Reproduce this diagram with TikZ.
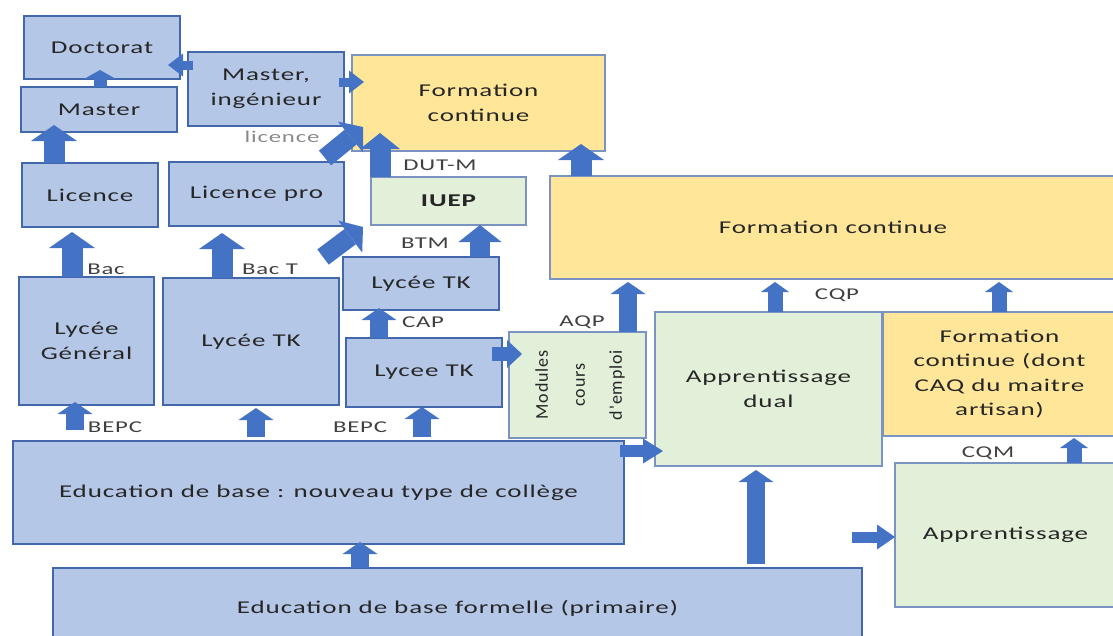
\documentclass[tikz,border=0pt]{standalone}
\usepackage{fontspec}
\setmainfont{Carlito}[FakeStretch=1.5,LetterSpace=5]
\newfontfamily\rotfont{Carlito}[LetterSpace=5]
\usepackage{graphicx}
\usepackage{xcolor}
\usepackage{tikz}
\usetikzlibrary{positioning,arrows.meta}

\definecolor{boxblue}{HTML}{B4C7E7}
\definecolor{boxyellow}{HTML}{FFE699}
\definecolor{boxgreen}{HTML}{E2F0D9}
\definecolor{edgeblue}{HTML}{4267AA}
\definecolor{edgegrey}{HTML}{7A93C2}
\definecolor{arrowblue}{HTML}{4472C4}
\definecolor{textdark}{HTML}{262626}
\definecolor{labelgrey}{HTML}{404040}
\definecolor{lightlabel}{HTML}{8A8A8A}

\tikzset{
  box/.style={draw=edgeblue, line width=1.8pt, fill=boxblue, align=center, text=textdark,
    inner sep=2pt, outer sep=0pt, font=\fontsize{18}{24.5}\selectfont},
  ybox/.style={box, draw=edgegrey, fill=boxyellow},
  gbox/.style={box, draw=edgegrey, fill=boxgreen},
  lbl/.style={text=labelgrey, inner sep=0pt, font=\fontsize{16.5}{18}\selectfont},
  thickup/.style={draw=arrowblue, line width=21pt, -{Triangle[width=46pt,length=16pt,line width=0pt]}},
  midup/.style={draw=arrowblue, line width=18pt, -{Triangle[width=35pt,length=12pt,line width=0pt]}},
  thinup/.style={draw=arrowblue, line width=15pt, -{Triangle[width=28pt,length=10pt,line width=0pt]}},
  sidearrow/.style={draw=arrowblue, line width=11pt, -{Triangle[width=23pt,length=15pt,line width=0pt]}},
}

\begin{document}
\begin{tikzpicture}[x=1pt, y=-1pt]
  \useasboundingbox (0,0) rectangle (1113,635);

  % university side
  \node[box, minimum width=156pt, minimum height=63pt] (doc) at (102,47.5) {Doctorat};
  \node[box, minimum width=156pt, minimum height=45pt] (mas) at (99,109.5) {Master};
  \node[box, minimum width=156pt, minimum height=74pt] (mi) at (266,89) {Master,\\ingénieur};
  \node[ybox, minimum width=253pt, minimum height=96pt] (fc1) at (478.5,103) {Formation\\continue};
  \node[box, minimum width=136pt, minimum height=64pt] (lic) at (90,195) {Licence};
  \node[box, minimum width=175pt, minimum height=64pt] (lpro) at (256.5,194) {Licence pro};
  \node[gbox, minimum width=155pt, minimum height=48pt, font=\fontsize{18}{24.5}\selectfont\bfseries] (iuep) at (448.5,201) {IUEP};
  \node[ybox, minimum width=566pt, minimum height=103pt] (fc2) at (833,227.5) {Formation continue};

  % lycees
  \node[box, minimum width=156pt, minimum height=53pt] (ltk1) at (421,283.5) {Lycée TK};
  \node[box, minimum width=135pt, minimum height=128pt] (lgen) at (86.5,341) {Lycée\\Général};
  \node[box, minimum width=176pt, minimum height=127pt] (ltk2) at (251,341.5) {Lycée TK};
  \node[box, minimum width=156pt, minimum height=69pt] (ltk3) at (424,372.5) {Lycee TK};
  \node[gbox, minimum width=137pt, minimum height=106pt] (mod) at (577.5,385)
    {\rotatebox{90}{\rotfont\fontsize{18}{37}\selectfont\begin{tabular}{@{}c@{}}Modules\\cours\\d'emploi\end{tabular}}};

  % apprenticeship
  \node[gbox, minimum width=227pt, minimum height=154pt] (dual) at (768.5,389) {Apprentissage\\dual};
  \node[ybox, minimum width=233pt, minimum height=124pt] (fc3) at (999.5,374) {Formation\\continue (dont\\CAQ du maitre\\artisan)};
  \node[gbox, minimum width=221pt, minimum height=144pt] (app) at (1005.5,535) {Apprentissage};

  % basic education
  \node[box, minimum width=611pt, minimum height=103pt] (edu) at (318.5,492.5) {Education de base : nouveau type de collège};
  \node[box, minimum width=809pt, minimum height=80pt] (prim) at (457.5,608) {Education de base formelle (primaire)};
  \coordinate (appfeed) at (852,537);

  % arrows
  \draw[thinup, line width=13pt, -{Triangle[width=32pt,length=9pt,line width=0pt]}, shorten >=-9pt] ([xshift=1pt]mas.north) -- ([xshift=-2pt]doc.south);
  \draw[sidearrow, line width=9pt, shorten <=-5pt, shorten >=-12pt] ([yshift=24pt]mi.west) -- ([yshift=14pt]doc.south east);
  \draw[sidearrow, line width=9pt, shorten <=-5pt, shorten >=-12pt] ([yshift=7pt]mi.east) -- ([yshift=-27pt]fc1.north west);
  \draw[thickup, shorten >=-7pt] ([xshift=-36pt]lic.north) -- ([xshift=-45pt]mas.south);
  \draw[thickup, shorten >=5pt] ([xshift=-14.5pt]lgen.north) -- ([xshift=-18pt]lic.south);
  \draw[thickup, shorten >=7pt] ([xshift=-29pt]ltk2.north) -- ([xshift=-34.5pt]lpro.south);
  \draw[thickup, line width=19pt, -{Triangle[width=40pt,length=16pt,line width=0pt]}] ([xshift=-16pt,yshift=21pt]ltk2.north east) -- ([xshift=-8pt,yshift=-2pt]iuep.south west);
  \draw[thickup, line width=19pt, -{Triangle[width=40pt,length=16pt,line width=0pt]}] ([xshift=-19pt,yshift=4pt]lpro.north east) -- ([xshift=11pt,yshift=24pt]fc1.south west);
  \draw[thickup, -{Triangle[width=40pt,length=16pt,line width=0pt]}, shorten >=-18pt] ([xshift=-68.5pt]iuep.north) -- ([xshift=-98.5pt]fc1.south);
  \draw[thickup, line width=20pt, -{Triangle[width=43pt,length=17pt,line width=0pt]}] ([xshift=59pt]ltk1.north) -- ([xshift=31.5pt]iuep.south);
  \draw[midup, shorten >=-2pt] ([xshift=-45pt]ltk3.north) -- ([xshift=-42pt]ltk1.south);
  \draw[sidearrow, line width=14pt, -{Triangle[width=28pt,length=15pt,line width=0pt]}, shorten <=-10pt, shorten >=-13pt] ([yshift=18.5pt]ltk3.east) -- ([yshift=31pt]mod.west);
  \draw[midup, shorten >=3pt] ([xshift=50.5pt]mod.north) -- ([xshift=-205pt]fc2.south);
  \draw[thickup, shorten >=-7pt] ([xshift=-252pt]fc2.north) -- ([xshift=102.5pt]fc1.south);
  \draw[thinup, shorten >=3pt] ([xshift=6.5pt]dual.north) -- ([xshift=-58pt]fc2.south);
  \draw[thinup, shorten >=3pt] ([xshift=-0.5pt]fc3.north) -- ([xshift=166pt]fc2.south);
  \draw[midup, shorten <=11pt, shorten >=-3pt] ([xshift=-243.5pt]edu.north) -- ([xshift=-11.5pt]lgen.south);
  \draw[midup, shorten <=4pt, shorten >=3pt] ([xshift=-62.5pt]edu.north) -- ([xshift=5pt]ltk2.south);
  \draw[midup, shorten <=4pt] ([xshift=103.5pt]edu.north) -- ([xshift=-2pt]ltk3.south);
  \draw[sidearrow, line width=12pt, -{Triangle[width=25pt,length=20pt,line width=0pt]}, shorten <=-4pt, shorten >=-8pt] ([yshift=41.5pt]edu.east) -- ([yshift=15pt]dual.south west);
  \draw[midup, shorten >=-2pt] ([xshift=-97.5pt]prim.north) -- ([xshift=41.5pt]edu.south);
  \draw[midup, shorten <=4pt, shorten >=4pt] ([xshift=298.5pt]prim.north) -- ([xshift=-12.5pt]dual.south);
  \draw[sidearrow, -{Triangle[width=25pt,length=18pt,line width=0pt]}] (appfeed) -- ([yshift=-2pt]app.west);
  \draw[thinup, shorten >=2pt] ([xshift=68.5pt]app.north) -- ([xshift=74.5pt]fc3.south);

  % labels
  \node[lbl, text=lightlabel] (llic) at (282,137) {licence};
  \node[lbl] (ldut) at (440,165) {DUT-M};
  \node[lbl] (lbtm) at (425,243) {BTM};
  \node[lbl] (lbac) at (106,269) {Bac};
  \node[lbl] (lbact) at (270,269) {Bac T};
  \node[lbl] (lcap) at (423,322) {CAP};
  \node[lbl] (laqp) at (582,322) {AQP};
  \node[lbl] (lcqp) at (837,295) {CQP};
  \node[lbl] (lbepca) at (115,427) {BEPC};
  \node[lbl] (lbepcb) at (360,427) {BEPC};
  \node[lbl] (lcqm) at (988,453) {CQM};
\end{tikzpicture}
\end{document}
